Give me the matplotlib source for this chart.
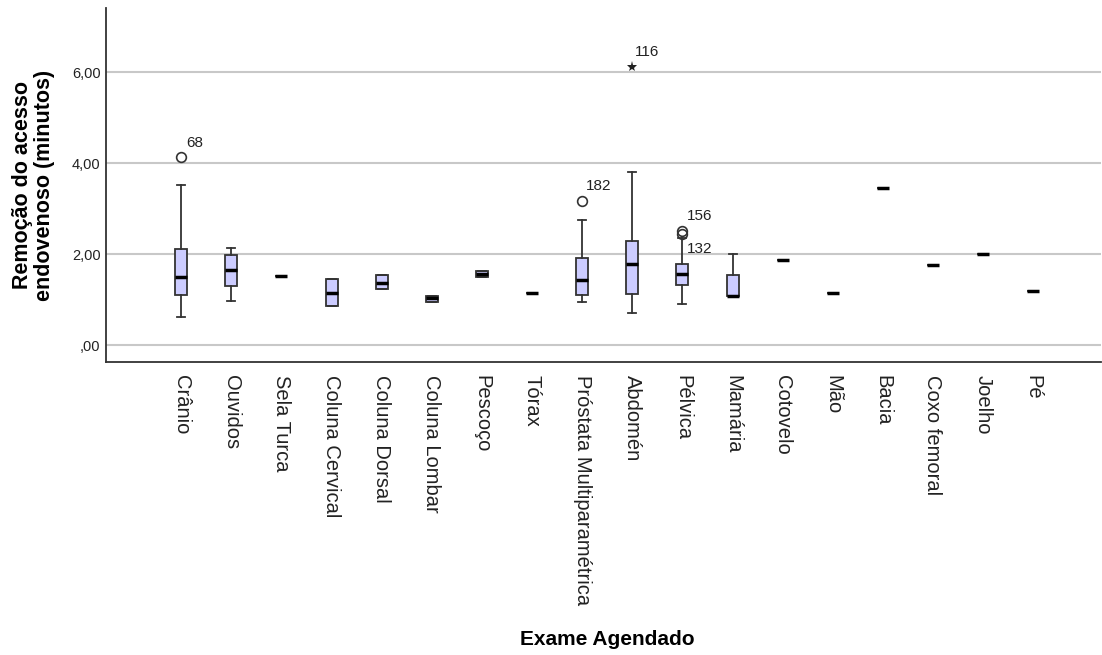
import numpy as np
import matplotlib.pyplot as plt

plt.rcParams['font.family'] = ['Liberation Sans', 'DejaVu Sans']

exames = ['Crânio', 'Ouvidos', 'Sela Turca', 'Coluna Cervical', 'Coluna Dorsal',
          'Coluna Lombar', 'Pescoço', 'Tórax', 'Próstata Multiparamétrica',
          'Abdomén', 'Pélvica', 'Mamária', 'Cotovelo', 'Mão', 'Bacia',
          'Coxo femoral', 'Joelho', 'Pé']

# resumo de cada caixa (minutos)
whislo = [0.62, 0.97, 1.52, 0.86, 1.24, 0.95, 1.50, 1.14, 0.95, 0.71, 0.90, 1.08, 1.88, 1.14, 3.45, 1.76, 2.00, 1.19]
q1     = [1.10, 1.30, 1.52, 0.86, 1.24, 0.95, 1.50, 1.14, 1.10, 1.12, 1.32, 1.08, 1.88, 1.14, 3.45, 1.76, 2.00, 1.19]
med    = [1.50, 1.65, 1.52, 1.14, 1.37, 1.03, 1.57, 1.14, 1.43, 1.78, 1.56, 1.08, 1.88, 1.14, 3.45, 1.76, 2.00, 1.19]
q3     = [2.11, 1.98, 1.52, 1.45, 1.54, 1.07, 1.62, 1.14, 1.91, 2.28, 1.78, 1.54, 1.88, 1.14, 3.45, 1.76, 2.00, 1.19]
whishi = [3.52, 2.13, 1.52, 1.45, 1.54, 1.07, 1.62, 1.14, 2.75, 3.80, 2.36, 2.00, 1.88, 1.14, 3.45, 1.76, 2.00, 1.19]

# valores atípicos: (índice do exame, valor, caso)
outliers = [(0, 4.13, '68'), (8, 3.16, '182'), (10, 2.51, '156'), (10, 2.44, '132')]
extremos = [(9, 6.11, '116')]

fill = '#ccccff'
edge = '#333333'

fig = plt.figure(figsize=(11.02, 6.55), dpi=100)
ax = fig.add_axes([0.0962, 0.4473, 0.9028, 0.5405])

stats = []
for i, nome in enumerate(exames):
    stats.append(dict(label=nome, whislo=whislo[i], q1=q1[i], med=med[i],
                      q3=q3[i], whishi=whishi[i], fliers=[]))

pos = np.arange(len(exames))
ax.bxp(stats, positions=pos, widths=0.24, patch_artist=True, showfliers=False,
       boxprops=dict(facecolor=fill, edgecolor=edge, linewidth=1.3),
       medianprops=dict(color='black', linewidth=2.5),
       whiskerprops=dict(color=edge, linewidth=1.3),
       capprops=dict(color=edge, linewidth=1.3), capwidths=0.16, zorder=3)

for i, v, caso in outliers:
    ax.plot(pos[i], v, 'o', ms=7, mfc='none', mec=edge, mew=1.2, zorder=4)
for i, v, caso in extremos:
    ax.plot(pos[i], v, '*', ms=8, color='#222222', mew=0, zorder=4)

# rótulos dos casos (deslocamento em pontos)
desloc = {'68': (4, 10), '182': (2.5, 11), '156': (3, 11), '132': (3, -11), '116': (2, 11)}
for i, v, caso in outliers + extremos:
    dx, dy = desloc[caso]
    ax.annotate(caso, (pos[i], v), xytext=(dx, dy), textcoords='offset points',
                fontsize=11, color='#222222', ha='left', va='center')

ax.set_xlim(-1.5, 18.35)
ax.set_ylim(-0.374, 7.41)
ax.set_yticks([0, 2, 4, 6])
ax.set_yticklabels([',00', '2,00', '4,00', '6,00'], fontsize=10.5, color='#222222')
ax.set_xticks(pos)
ax.set_xticklabels(exames, rotation=270, fontsize=14.5, color='#222222', va='top', ha='center')
ax.tick_params(axis='both', length=0)
ax.tick_params(axis='x', pad=9)
ax.tick_params(axis='y', pad=4)

ax.grid(axis='y', color='#c8c8c8', linewidth=1.5, zorder=0)
ax.set_axisbelow(True)
ax.spines['top'].set_visible(False)
ax.spines['right'].set_visible(False)
ax.spines['left'].set_color(edge)
ax.spines['bottom'].set_color(edge)
ax.spines['left'].set_linewidth(1.3)
ax.spines['bottom'].set_linewidth(1.3)

ax.set_ylabel('Remoção do acesso\nendovenoso (minutos)', fontsize=15.5, fontweight='bold',
              linespacing=1.05, labelpad=12)
fig.text(0.551, 0.023, 'Exame Agendado', fontsize=15, fontweight='bold', ha='center', va='center')

fig.savefig('out.png', dpi=100)
